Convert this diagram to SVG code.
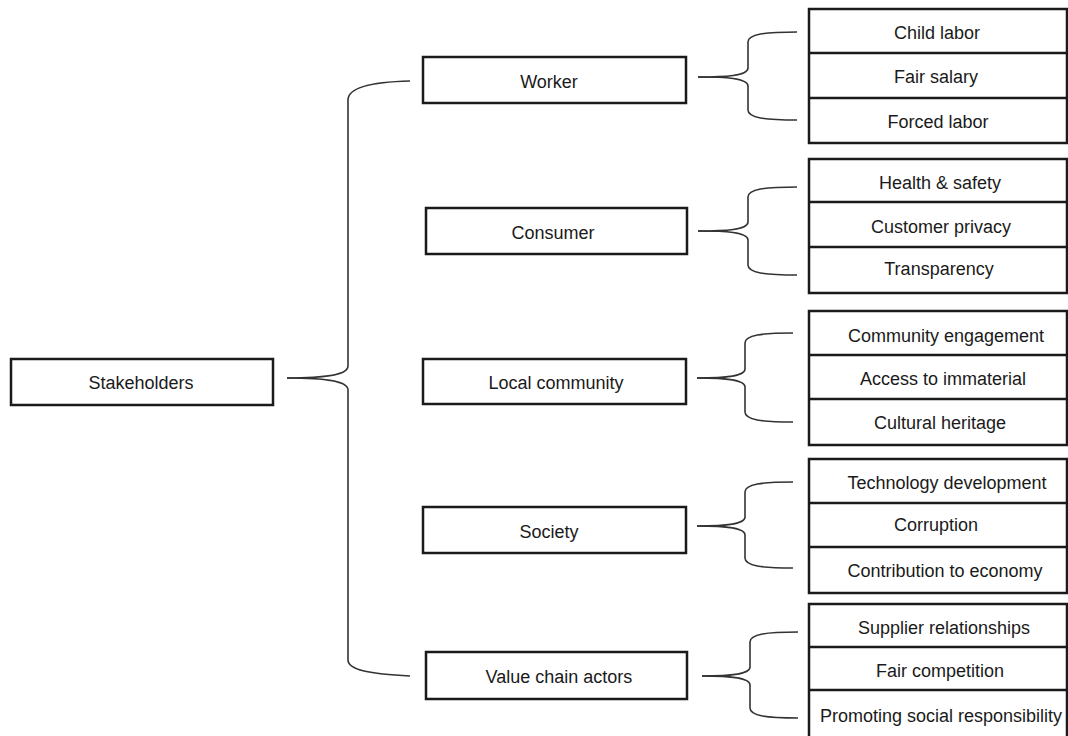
<svg xmlns="http://www.w3.org/2000/svg" width="1068" height="736" viewBox="0 0 1068 736">
<style>
.box{fill:#fff;stroke:#1a1a1a;stroke-width:2.5}
.div{stroke:#1a1a1a;stroke-width:2.5}
.br{fill:none;stroke:#333;stroke-width:1.6}
text{font-family:"Liberation Sans",Arial,sans-serif;font-size:18px;fill:#1a1a1a;text-anchor:middle}
</style>
<rect width="1068" height="736" fill="#fff"/>
<g id="connectors">
<path class="br" d="M287,378 C320,378 348,376 348,366 L348,100 C348,88 370,82 410,81"/>
<path class="br" d="M287,378 C320,378 348,380 348,390 L348,660 C348,670 370,674 410,676"/>
<path class="br" d="M698,77 C725,77 748,76 748,68 L748,42 C748,34 765,32 797,32"/>
<path class="br" d="M698,77 C725,77 748,78 748,86 L748,110 C748,118 765,120 797,120"/>
<path class="br" d="M698,231 C725,231 748,230 748,222 L748,197 C748,189 765,187 797,187"/>
<path class="br" d="M698,231 C725,231 748,232 748,240 L748,265 C748,273 765,275 797,275"/>
<path class="br" d="M697,378 C722,378 745,377 745,369 L745,343 C745,335 762,333 793,333"/>
<path class="br" d="M697,378 C722,378 745,379 745,387 L745,412 C745,420 762,422 793,422"/>
<path class="br" d="M697,526 C722,526 745,525 745,517 L745,492 C745,484 762,482 793,482"/>
<path class="br" d="M697,526 C722,526 745,527 745,535 L745,558 C745,566 762,568 793,568"/>
<path class="br" d="M702,676 C727,676 750,675 750,667 L750,642 C750,634 767,632 798,632"/>
<path class="br" d="M702,676 C727,676 750,677 750,685 L750,708 C750,716 767,718 798,718"/>
</g>
<g id="stakeholders"><rect class="box" x="11" y="359" width="262" height="46"/><text x="141" y="389">Stakeholders</text></g>
<g id="worker"><rect class="box" x="423" y="57" width="263" height="46"/><text x="549" y="88">Worker</text></g>
<g id="consumer"><rect class="box" x="426" y="208" width="261" height="46"/><text x="553" y="239">Consumer</text></g>
<g id="local-community"><rect class="box" x="423" y="359" width="263" height="45"/><text x="556" y="389">Local community</text></g>
<g id="society"><rect class="box" x="423" y="507" width="263" height="46"/><text x="549" y="538">Society</text></g>
<g id="value-chain-actors"><rect class="box" x="426" y="652" width="261" height="47"/><text x="559" y="683">Value chain actors</text></g>
<g id="worker-issues">
<rect class="box" x="809" y="9" width="258" height="134"/>
<line class="div" x1="809" y1="53" x2="1067" y2="53"/><line class="div" x1="809" y1="98" x2="1067" y2="98"/>
<text x="937" y="39">Child labor</text><text x="936" y="83">Fair salary</text><text x="938" y="128">Forced labor</text>
</g>
<g id="consumer-issues">
<rect class="box" x="809" y="159" width="258" height="134"/>
<line class="div" x1="809" y1="202" x2="1067" y2="202"/><line class="div" x1="809" y1="247" x2="1067" y2="247"/>
<text x="940" y="189">Health &amp; safety</text><text x="941" y="233">Customer privacy</text><text x="939" y="275">Transparency</text>
</g>
<g id="community-issues">
<rect class="box" x="809" y="311" width="258" height="134"/>
<line class="div" x1="809" y1="355" x2="1067" y2="355"/><line class="div" x1="809" y1="399" x2="1067" y2="399"/>
<text x="946" y="342">Community engagement</text><text x="943" y="385">Access to immaterial</text><text x="940" y="429">Cultural heritage</text>
</g>
<g id="society-issues">
<rect class="box" x="809" y="459" width="258" height="134"/>
<line class="div" x1="809" y1="503" x2="1067" y2="503"/><line class="div" x1="809" y1="547" x2="1067" y2="547"/>
<text x="947" y="489">Technology development</text><text x="936" y="531">Corruption</text><text x="945" y="577">Contribution to economy</text>
</g>
<g id="value-chain-issues">
<rect class="box" x="809" y="604" width="258" height="140"/>
<line class="div" x1="809" y1="647" x2="1067" y2="647"/><line class="div" x1="809" y1="690" x2="1067" y2="690"/>
<text x="944" y="634">Supplier relationships</text><text x="940" y="677">Fair competition</text><text x="941" y="722">Promoting social responsibility</text>
</g>
</svg>
